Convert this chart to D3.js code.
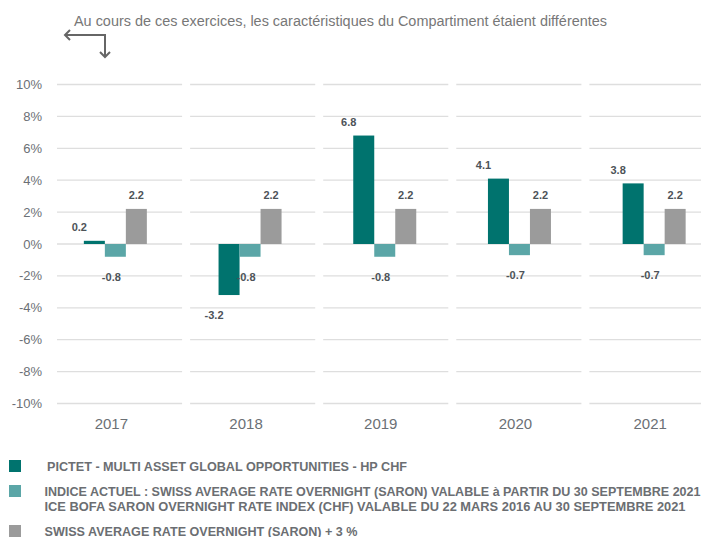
<!DOCTYPE html>
<html>
<head>
<meta charset="utf-8">
<script src="https://cdn.jsdelivr.net/npm/d3@7"></script>
<style>
  body { margin: 0; background: #fff; }
  svg { display: block; font-family: "Liberation Sans", Arial, sans-serif; }
</style>
</head>
<body>
<svg id="chart" width="701" height="537"></svg>
<script>
const years = ['2017', '2018', '2019', '2020', '2021'];
const fundValues = [0.2, -3.2, 6.8, 4.1, 3.8];
const indexValues = [-0.8, -0.8, -0.8, -0.7, -0.7];
const saronValues = [2.2, 2.2, 2.2, 2.2, 2.2];
const yTicks = [10, 8, 6, 4, 2, 0, -2, -4, -6, -8, -10];
const seriesNames = [
  ['PICTET - MULTI ASSET GLOBAL OPPORTUNITIES - HP CHF'],
  ['INDICE ACTUEL : SWISS AVERAGE RATE OVERNIGHT (SARON) VALABLE à PARTIR DU 30 SEPTEMBRE 2021',
   'ICE BOFA SARON OVERNIGHT RATE INDEX (CHF) VALABLE DU 22 MARS 2016 AU 30 SEPTEMBRE 2021'],
  ['SWISS AVERAGE RATE OVERNIGHT (SARON) + 3 %']
];
const title = 'Au cours de ces exercices, les caractéristiques du Compartiment étaient différentes';

const colors = ['#00736e', '#5ba6a7', '#9b9b9b'];
const series = [fundValues, indexValues, saronValues];

const svg = d3.select('#chart');

const y = d3.scaleLinear().domain([-10, 10]).range([403.5, 84.5]);

// gridline segments, one per year
const xGrid = d3.scaleBand().domain(years).range([57, 714.5]).paddingInner(0.06);
// bar groups
const xBar = d3.scaleBand().domain(years).range([48, 721.5]);
const inner = d3.scaleBand().domain([0, 1, 2]).range([-31.5, 31.5]);

// gridlines
const grid = svg.append('g');
years.forEach(yr => {
  grid.selectAll(null)
    .data(yTicks)
    .enter()
    .append('line')
    .attr('x1', xGrid(yr))
    .attr('x2', xGrid(yr) + xGrid.bandwidth())
    .attr('y1', d => y(d))
    .attr('y2', d => y(d))
    .attr('stroke', '#dedede')
    .attr('stroke-width', 1.3);
});

// y axis labels
svg.append('g')
  .selectAll('text')
  .data(yTicks)
  .enter()
  .append('text')
  .attr('x', 42)
  .attr('y', d => y(d) + 4.5)
  .attr('text-anchor', 'end')
  .attr('font-size', '13px')
  .attr('fill', '#6b7075')
  .text(d => d + '%');

// bars
series.forEach((vals, si) => {
  svg.append('g')
    .selectAll('rect')
    .data(vals)
    .enter()
    .append('rect')
    .attr('x', (d, i) => xBar(years[i]) + xBar.bandwidth() / 2 + inner(si))
    .attr('width', inner.bandwidth())
    .attr('y', d => y(Math.max(0, d)))
    .attr('height', d => Math.abs(y(d) - y(0)))
    .attr('fill', colors[si]);
});

// value labels
const labelShift = [-15, -4, 0];
series.forEach((vals, si) => {
  svg.append('g')
    .selectAll('text')
    .data(vals)
    .enter()
    .append('text')
    .attr('x', (d, i) => xBar(years[i]) + xBar.bandwidth() / 2 + inner(si) + inner.bandwidth() / 2 + labelShift[si])
    .attr('y', d => d >= 0 ? y(d) - 9.5 : y(d) + 24)
    .attr('text-anchor', 'middle')
    .attr('font-size', '11px')
    .attr('font-weight', 'bold')
    .attr('fill', '#4d5358')
    .text(d => d.toFixed(1));
});

// category labels
svg.append('g')
  .selectAll('text')
  .data(years)
  .enter()
  .append('text')
  .attr('x', d => xBar(d) + xBar.bandwidth() / 2 - 4)
  .attr('y', 429)
  .attr('text-anchor', 'middle')
  .attr('font-size', '15px')
  .attr('fill', '#6b7075')
  .text(d => d);

// title and arrow
svg.append('text')
  .attr('x', 74)
  .attr('y', 26)
  .attr('font-size', '14px')
  .attr('fill', '#777')
  .attr('textLength', 533)
  .attr('lengthAdjust', 'spacingAndGlyphs')
  .text(title);

svg.append('path')
  .attr('d', 'M65,35 H105 V57 M70,30 L65,35 L70,40 M100,52 L105,57 L110,52')
  .attr('fill', 'none')
  .attr('stroke', '#666')
  .attr('stroke-width', 2);

// legend
const legendRows = [
  { sy: 460, ty: [470.5], len: [360] },
  { sy: 485, ty: [496, 511], len: [656, 641] },
  { sy: 525, ty: [535.5], len: [313] }
];
const legend = svg.append('g');
seriesNames.forEach((lines, i) => {
  const row = legendRows[i];
  legend.append('rect')
    .attr('x', 9)
    .attr('y', row.sy)
    .attr('width', 12)
    .attr('height', 12)
    .attr('fill', colors[i]);
  lines.forEach((t, j) => {
    legend.append('text')
      .attr('x', i === 0 ? 47 : 44.5)
      .attr('y', row.ty[j])
      .attr('font-size', '12.5px')
      .attr('font-weight', 'bold')
      .attr('fill', '#6b6e72')
      .attr('textLength', row.len[j])
      .attr('lengthAdjust', 'spacingAndGlyphs')
      .text(t);
  });
});
</script>
</body>
</html>
